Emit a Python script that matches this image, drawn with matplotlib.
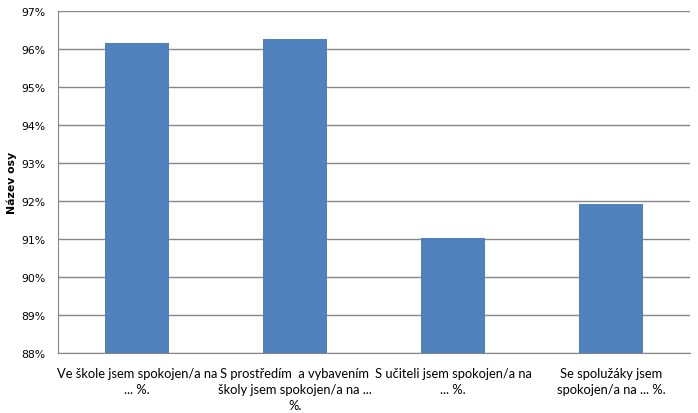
import matplotlib.pyplot as plt
from matplotlib.ticker import FuncFormatter, MultipleLocator

categories = [
    "Ve škole jsem spokojen/a na\n... %.",
    "S prostředím  a vybavením\nškoly jsem spokojen/a na ...\n%.",
    "S učiteli jsem spokojen/a na\n... %.",
    "Se spolužáky jsem\nspokojen/a na ... %.",
]
values = [96.17, 96.27, 91.03, 91.93]

plt.rcParams['font.family'] = ['Lato', 'DejaVu Sans']

fig = plt.figure(figsize=(6.98, 4.14), dpi=100)
ax = fig.add_axes([58 / 698, 1 - 354 / 414, (690 - 58) / 698, (354 - 12) / 414])

x = range(len(values))
ax.bar(x, values, width=0.4, color='#4f81bd', zorder=3)

ax.set_xlim(-0.5, len(values) - 0.5)
ax.set_ylim(88, 97)
ax.yaxis.set_major_locator(MultipleLocator(1))
ax.yaxis.set_major_formatter(FuncFormatter(lambda v, p: f"{v:.0f}%"))
ax.grid(axis='y', color='#868686', linewidth=1, zorder=0)

ax.set_xticks(list(x))
ax.set_xticklabels(categories, fontsize=9.3, linespacing=1.42)
ax.tick_params(axis='x', length=0, pad=10)
ax.tick_params(axis='y', length=0, pad=9)
for lbl in ax.get_yticklabels():
    lbl.set_family('DejaVu Sans')
    lbl.set_fontsize(7.8)

for side in ['top', 'right']:
    ax.spines[side].set_visible(False)
for side in ['left', 'bottom']:
    ax.spines[side].set_color('#868686')

ax.set_ylabel('Název osy', fontsize=7.8, fontweight='bold', family='DejaVu Sans', labelpad=3)

fig.savefig('out.png', dpi=100)
